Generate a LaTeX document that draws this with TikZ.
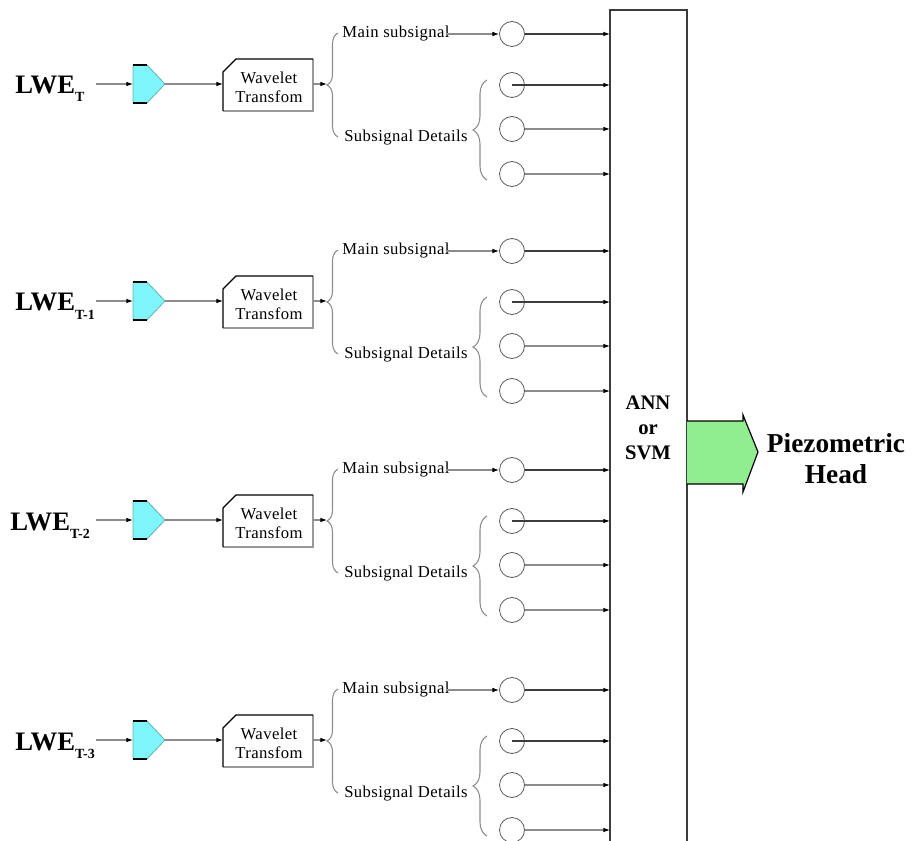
\documentclass[tikz,border=0pt]{standalone}
\usepackage{fontspec}
\setmainfont{Liberation Serif}
\usetikzlibrary{arrows.meta,decorations.pathreplacing}
\definecolor{cyanfill}{RGB}{125,245,250}
\definecolor{greenfill}{RGB}{144,238,144}
\definecolor{lgray}{RGB}{140,140,140}
\definecolor{dgray}{RGB}{60,60,60}
\newcommand\lwefnt{\fontsize{20}{24}\selectfont\bfseries}
\newcommand\lwesubfnt{\fontsize{10.5}{12}\selectfont\bfseries}
\newcommand\smallfnt{\fontsize{12.5}{14.25}\selectfont\addfontfeature{LetterSpace=2.5}}
\begin{document}
\begin{tikzpicture}[x=0.75pt,y=-0.75pt,
  conn/.style={draw=lgray,line width=0.8pt,-{Latex[length=5pt,width=3.5pt,color=black]}},
  darkconn/.style={conn,draw=dgray},
  circ/.style={circle,draw=black!65,line width=0.6pt,minimum size=18.75pt,inner sep=0pt},
  bracestyle/.style={decorate,draw=lgray,line width=0.8pt},
  lbl/.style={inner sep=0pt,font=\smallfnt},
  bigtxt/.style={inner sep=0pt,align=center}
]
\useasboundingbox (0,0) rectangle (917,841);

\foreach \i/\off/\sub/\lx in {1/0/T/15, 2/217/T-1/15, 3/436/T-2/10, 4/656/T-3/15}{
\begin{scope}[shift={(0,\off)}]
  % input label
  \node[anchor=base west,inner sep=0pt] (lwe\i) at (\lx,94) {{\lwefnt LWE}\raisebox{-6pt}{\lwesubfnt \sub}};
  \coordinate (in\i) at (96,84);
  % pentagon
  \coordinate (pl\i) at (133,84);
  \coordinate (pt\i) at (165,84);
  \filldraw[fill=cyanfill,draw=teal!60,line width=0.6pt] (133,65) -- (147,65) -- (165,84) -- (147,103) -- (133,103) -- cycle;
  \draw[black,line width=0.9pt] (133,65) -- (147,65) (133,103) -- (147,103);
  \draw[conn] (in\i) -- (pl\i);
  % wavelet box
  \fill[white] (223,111) -- (223,72) -- (236,59) -- (313,59) -- (313,111) -- cycle;
  \draw[black!40,line width=1pt] (223,111) -- (313,111) -- (313,59);
  \draw[black,line width=1pt] (223,111) -- (223,72) -- (236,59) -- (313,59);
  \node[lbl,align=center] (wt\i) at (269,87) {Wavelet\\Transfom};
  \coordinate (wtin\i) at (223,84);
  \coordinate (wtout\i) at (313,84);
  \draw[conn] (pt\i) -- (wtin\i);
  % first brace
  \coordinate (br\i) at (327,84);
  \draw[conn] (wtout\i) -- (br\i);
  \draw[bracestyle,decoration={brace,amplitude=8.25pt}] (338,137) -- (338,33);
  \node[lbl,anchor=west] (ms\i) at (342,34) {Main subsignal};
  \node[lbl,anchor=west] (sd\i) at (344,138) {Subsignal Details};
  % circles
  \node[circ] (c0\i) at (512,34) {};
  \node[circ] (c1\i) at (512,85) {};
  \node[circ] (c2\i) at (512,129) {};
  \node[circ] (c3\i) at (512,174) {};
  \draw[conn] ([xshift=-3pt]ms\i.east) -- (c0\i.west);
  % second brace
  \draw[bracestyle,decoration={brace,amplitude=10.5pt}] (487,180) -- (487,80);
  % lines to the big box
  \coordinate (b0\i) at (610,34);
  \coordinate (b1\i) at (610,85);
  \coordinate (b2\i) at (610,129);
  \coordinate (b3\i) at (610,174);
  \draw[darkconn] (c0\i.east) -- (b0\i);
  \draw[darkconn] (c1\i.center) -- (b1\i);
  \draw[conn] (c2\i.east) -- (b2\i);
  \draw[conn] (c3\i.east) -- (b3\i);
\end{scope}
}

% big box
\draw[dgray,line width=1.3pt] (610,845) -- (610,10) -- (687,10) -- (687,845);
\node[bigtxt,font=\fontsize{15.5}{18.75}\selectfont\bfseries] (ann) at (648,428) {ANN\\or\\SVM};

% output arrow
\fill[greenfill] (687,421) -- (743,421) -- (743,415) -- (758,452) -- (743,492) -- (743,484) -- (687,484) -- cycle;
\draw[black,line width=0.9pt] (687,421) -- (743,421) -- (743,415) -- (758,452) -- (743,492) -- (743,484) -- (687,484);
\node[bigtxt,font=\fontsize{20.5}{23.25}\selectfont\bfseries] (ph) at (836,459) {Piezometric\\Head};
\end{tikzpicture}
\end{document}
